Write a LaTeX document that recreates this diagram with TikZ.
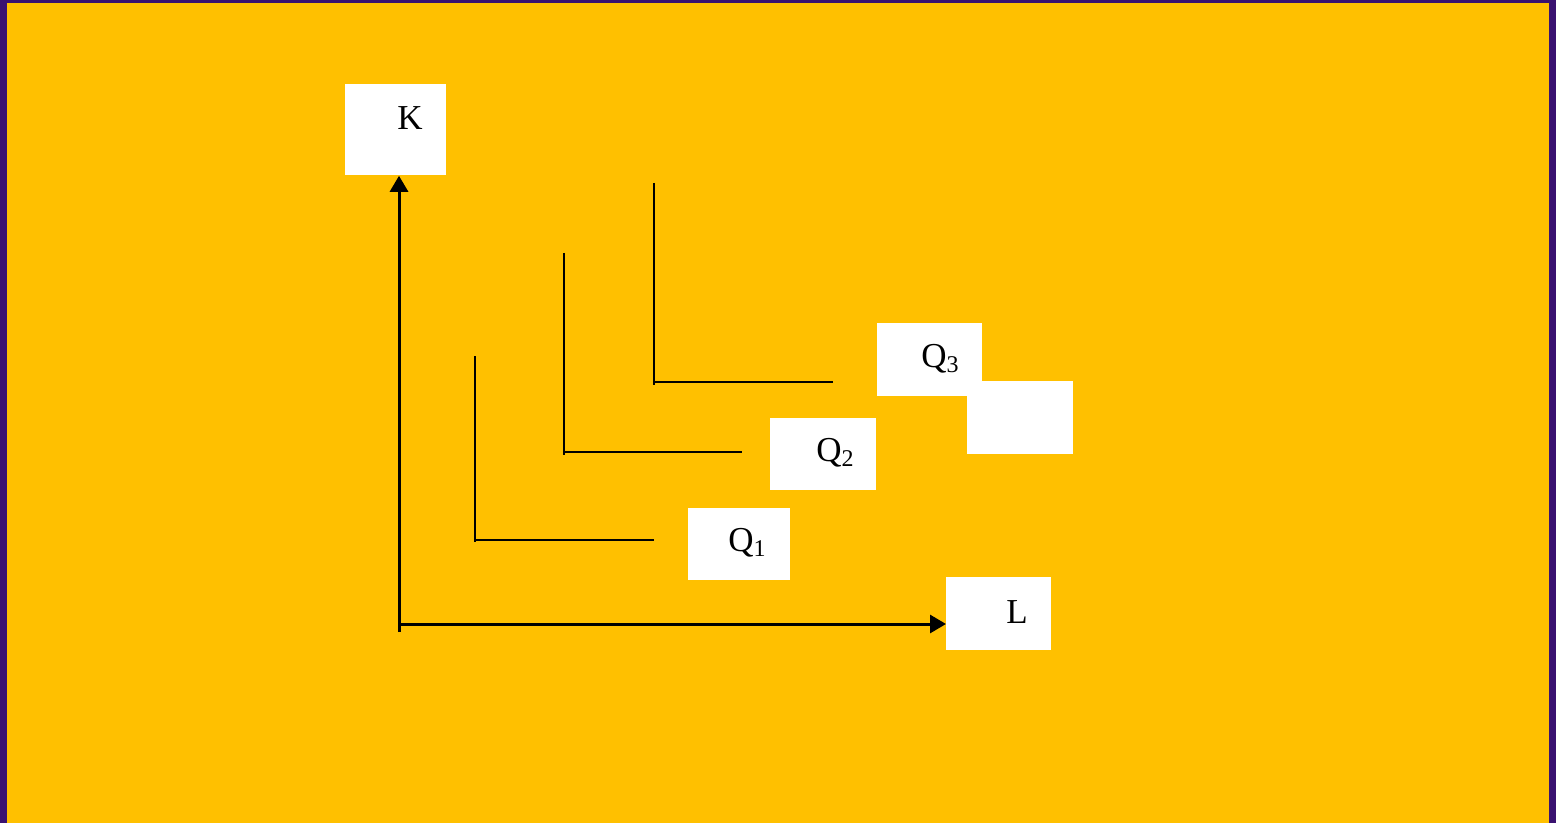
\documentclass[tikz,border=0pt]{standalone}
\usepackage{fontspec}
\setmainfont{Liberation Serif}
\usetikzlibrary{arrows.meta}
\definecolor{bgpurple}{HTML}{3A1270}
\definecolor{bgorange}{HTML}{FFC000}
\newcommand{\qsub}[1]{Q\raisebox{-0.3ex}{\fontsize{12}{14}\selectfont #1}}
\begin{document}
\begin{tikzpicture}[x=0.5pt,y=-0.5pt,
  wbox/.style={draw=none,fill=white,rectangle,inner sep=0pt,anchor=north west},
  lbl/.style={inner sep=0pt,font=\fontsize{17.5}{20}\selectfont},
  axis/.style={line width=1.5pt,-{Triangle[length=8pt,width=9pt]}},
  iso/.style={line width=1.1pt}]
\fill[bgpurple] (0,0) rectangle (1556,823);
\fill[bgorange] (7,3) rectangle (1549,823);
\useasboundingbox (0,0) rectangle (1556,823);
% boxes
\node[wbox,minimum width=50.5pt,minimum height=45.5pt] (K) at (345,84) {};
\node[wbox,minimum width=52.5pt,minimum height=36.5pt] (L) at (946,577) {};
\node[wbox,minimum width=51pt,minimum height=36pt] (B1) at (688,508) {};
\node[wbox,minimum width=53pt,minimum height=36pt] (B2) at (770,418) {};
\node[wbox,minimum width=52.5pt,minimum height=36.5pt] (B3) at (877,323) {};
\node[wbox,minimum width=53pt,minimum height=36.5pt] (B4) at (967,381) {};
% labels
\node[lbl] (tK) at (410,118) {K};
\node[lbl] (tL) at (1017,612) {L};
\node[lbl] (t1) at (747,543) {\qsub{1}};
\node[lbl] (t2) at (835,453) {\qsub{2}};
\node[lbl] (t3) at (940,359) {\qsub{3}};
% axes
\coordinate (Oy) at (399,632);
\coordinate (Ox) at (399,624);
\draw[axis] (Oy) -- (K.south -| Oy);
\draw[axis] (Ox) -- (L.west |- Ox);
% isoquants
\coordinate (a1) at (475,356); \coordinate (c1) at (475,542);
\coordinate (h1) at (475,540); \coordinate (e1) at (654,540);
\coordinate (a2) at (564,253); \coordinate (c2) at (564,455);
\coordinate (h2) at (564,452); \coordinate (e2) at (742,452);
\coordinate (a3) at (654,183); \coordinate (c3) at (654,385);
\coordinate (h3) at (654,382); \coordinate (e3) at (833,382);
\draw[iso] (a1) -- (c1); \draw[iso] (h1) -- (e1);
\draw[iso] (a2) -- (c2); \draw[iso] (h2) -- (e2);
\draw[iso] (a3) -- (c3); \draw[iso] (h3) -- (e3);
\end{tikzpicture}
\end{document}
